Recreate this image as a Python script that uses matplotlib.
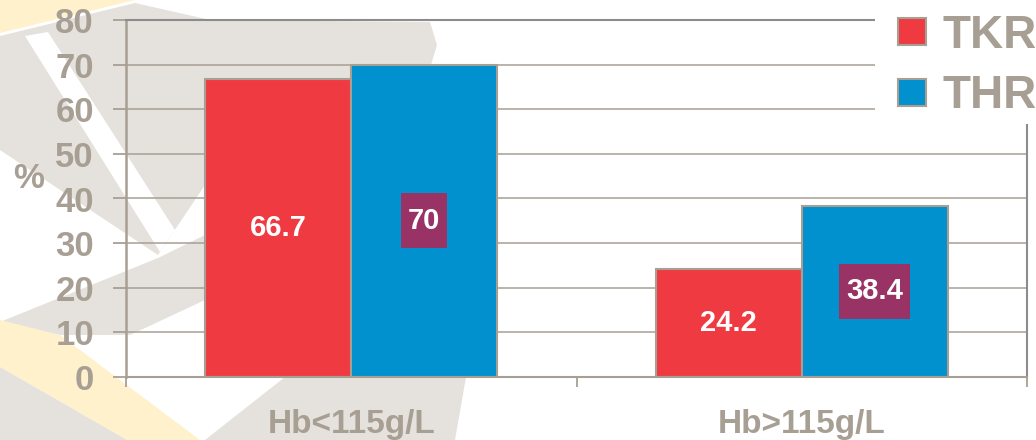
import numpy as np
import matplotlib.pyplot as plt
from matplotlib.patches import Polygon, Rectangle
import matplotlib.transforms as mtransforms

categories = ['Hb<115g/L', 'Hb>115g/L']
series_names = ['TKR', 'THR']
tkr = [66.7, 24.2]
thr = [70, 38.4]
yticks = [0, 10, 20, 30, 40, 50, 60, 70, 80]

plt.rcParams['font.family'] = ['Liberation Sans', 'DejaVu Sans']
plt.rcParams['font.weight'] = 'bold'

GRAY = '#A89F94'
RED = '#EF3A42'
BLUE = '#0091CE'
PURPLE = '#993366'

W, H = 1036, 440
fig = plt.figure(figsize=(W / 100, H / 100), dpi=100)
fig.patch.set_facecolor('white')


def px(pts):
    return [(x / W, 1 - y / H) for x, y in pts]


# faint watermark shapes in the background
wm_gray = '#E5E2DD'
wm_yellow = '#FEF1CC'
shapes = [
    (wm_yellow, [(0, 0), (135, 0), (0, 33)]),
    (wm_gray, [(0, 36), (135, 3), (175, 12), (210, 20), (430, 22), (437, 45),
               (430, 68), (300, 85), (205, 185), (158, 255), (0, 150)]),
    ('white', [(25, 36), (48, 32), (175, 230), (160, 252)]),
    (wm_gray, [(0, 322), (158, 258), (205, 235), (205, 300), (130, 335), (60, 335)]),
    (wm_yellow, [(0, 320), (60, 335), (200, 440), (127, 440), (0, 367)]),
    (wm_gray, [(0, 367), (127, 440), (0, 440)]),
    (wm_gray, [(205, 440), (285, 377), (466, 377), (455, 440)]),
]
for c, pts in shapes:
    fig.add_artist(Polygon(px(pts), closed=True, transform=fig.transFigure,
                           facecolor=c, edgecolor='none', zorder=-2))

ax = fig.add_axes([126 / W, (H - 377) / H, (1027 - 126) / W, (377 - 20) / H])
ax.set_facecolor('none')

x = np.arange(len(categories))
w = 0.324
b1 = ax.bar(x - w / 2, tkr, w, color=RED, edgecolor=GRAY, linewidth=1.5,
            label=series_names[0], zorder=2)
b2 = ax.bar(x + w / 2, thr, w, color=BLUE, edgecolor=GRAY, linewidth=1.5,
            label=series_names[1], zorder=2)

ax.set_xlim(-0.5, 1.5)
ax.set_ylim(0, 80)
ax.set_yticks(yticks)
ax.yaxis.grid(True, color=GRAY, linewidth=1.1)
ax.set_axisbelow(True)

ax.set_xticks(x)
ax.set_xticklabels(categories)
ax.set_xticks([-0.5, 0.5, 1.5], minor=True)
ax.tick_params(axis='x', which='major', length=0, pad=23, labelsize=24,
               labelcolor=GRAY)
ax.tick_params(axis='x', which='minor', length=7.5, width=1.3, color=GRAY)
ax.tick_params(axis='y', length=9.4, width=1.3, color=GRAY, pad=13.7,
               labelsize=25, labelcolor=GRAY)

ax.spines['left'].set_color(GRAY)
ax.spines['left'].set_linewidth(1.8)
ax.spines['bottom'].set_color(GRAY)
ax.spines['bottom'].set_linewidth(1.5)
ax.spines['top'].set_color('#8C8C8C')
ax.spines['top'].set_linewidth(1.5)
ax.spines['right'].set_color('#8C8C8C')
ax.spines['right'].set_linewidth(1.5)

fig.text(29 / W, 1 - 179 / H, '%', ha='center', va='center', fontsize=25,
         color=GRAY)

# value labels
for xi, v in zip(x - w / 2, tkr):
    ax.text(xi, v / 2, f'{v:g}', ha='center', va='center', color='white',
            fontsize=21, zorder=4)
thr_texts = []
for xi, v in zip(x + w / 2, thr):
    thr_texts.append(ax.text(xi, v / 2, f'{v:g}', ha='center', va='center',
                             color='white', fontsize=21, zorder=4))

# legend with white backing
fig.add_artist(Rectangle((875 / W, 1 - 124 / H), 161 / W, 124 / H,
                         transform=fig.transFigure, facecolor='white',
                         edgecolor='none', zorder=4))
leg = fig.legend(handles=[b1, b2], labels=series_names, loc='upper left',
                 bbox_to_anchor=(898 / W, 1 - 14 / H), frameon=False,
                 fontsize=33, handlelength=0.6, handleheight=0.52,
                 handletextpad=0.38, labelspacing=0.36, borderpad=0,
                 borderaxespad=0, labelcolor=GRAY)
leg.set_zorder(5)

# purple boxes behind the THR labels
fig.canvas.draw()
r = fig.canvas.get_renderer()
for t in thr_texts:
    bb = t.get_window_extent(r)
    cx, cy = (bb.x0 + bb.x1) / 2, (bb.y0 + bb.y1) / 2
    bw = bb.width + 14
    bh = 55
    ax.add_artist(Rectangle((cx - bw / 2, cy - bh / 2), bw, bh,
                            transform=mtransforms.IdentityTransform(),
                            facecolor=PURPLE, edgecolor='none', zorder=3))

fig.savefig('out.png', dpi=100)
